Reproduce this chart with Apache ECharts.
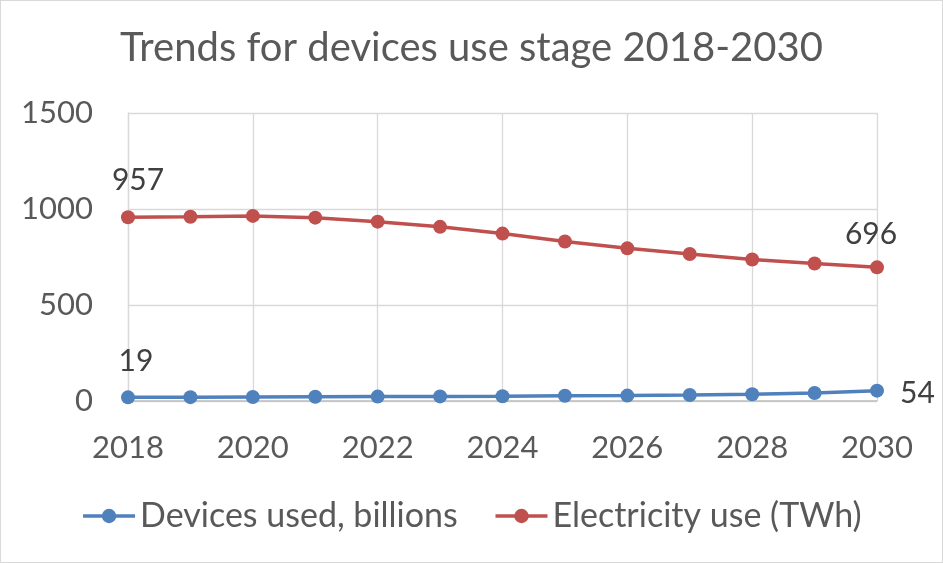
<!DOCTYPE html>
<html>
<head>
<meta charset="utf-8">
<script src="https://cdn.jsdelivr.net/npm/echarts@6/dist/echarts.min.js"></script>
<style>
  html, body { margin: 0; padding: 0; background: #fff; }
  #chart { width: 943px; height: 563px; box-sizing: border-box; border: 1px solid #D9D9D9; }
</style>
</head>
<body>
<div id="chart"></div>
<script>
// Years on the horizontal axis
const years = [2018, 2019, 2020, 2021, 2022, 2023, 2024, 2025, 2026, 2027, 2028, 2029, 2030];
// Devices in use, billions
const devices = [19, 20, 21, 22, 23, 24, 25, 27, 28, 31, 35, 42, 54];
// Electricity use, TWh
const electricity = [957, 960, 964, 955, 934, 907, 872, 831, 795, 766, 737, 716, 696];
// Axis tick settings
const yTicks = { min: 0, max: 1500, interval: 500 };
const xTicks = { min: 2018, max: 2030, interval: 2 };

const textColor = '#595959';
const font = 'Lato, "Open Sans", sans-serif';

function pairs(vals) { return years.map((y, i) => [y, vals[i]]); }

// Label only the first and last point of a series
function endLabels(vals, firstLabel, lastLabel) {
  return pairs(vals).map((p, i) => {
    const item = { value: p };
    if (i === 0) item.label = Object.assign({ show: true }, firstLabel);
    else if (i === vals.length - 1) item.label = Object.assign({ show: true }, lastLabel);
    return item;
  });
}

const plain = v => String(v);
const valueText = p => String(p.value[1]);

const chart = echarts.init(document.getElementById('chart'), null, { renderer: 'canvas' });
chart.setOption({
  animation: false,
  title: {
    text: 'Trends for devices use stage 2018-2030',
    left: 'center', top: 22,
    textStyle: { color: textColor, fontSize: 40, fontWeight: 'normal', fontFamily: font }
  },
  legend: {
    bottom: 24, left: 'center',
    itemWidth: 52, itemHeight: 18, itemGap: 36,
    lineStyle: { width: 3.5 },
    textStyle: { color: textColor, fontSize: 34, fontFamily: font }
  },
  grid: { left: 127, right: 65, top: 112, bottom: 161 },
  xAxis: {
    type: 'value', min: xTicks.min, max: xTicks.max, interval: xTicks.interval,
    axisLine: { show: true, lineStyle: { color: '#BFBFBF', width: 1.5 } },
    axisTick: { show: false },
    splitLine: { show: true, lineStyle: { color: '#D9D9D9', width: 1.3 } },
    axisLabel: { color: textColor, fontSize: 31, fontFamily: font, margin: 31, formatter: plain }
  },
  yAxis: {
    type: 'value', min: yTicks.min, max: yTicks.max, interval: yTicks.interval,
    axisLine: { show: true, lineStyle: { color: '#D9D9D9', width: 1.3 } },
    axisTick: { show: false },
    splitLine: { show: true, lineStyle: { color: '#D9D9D9', width: 1.3 } },
    axisLabel: { color: textColor, fontSize: 31, fontFamily: font, margin: 35, formatter: plain }
  },
  series: [
    {
      name: 'Devices used, billions', type: 'line',
      data: endLabels(devices,
        { position: 'top', distance: 14, offset: [8, 0] },
        { position: 'right', distance: 16, offset: [0, 3] }),
      symbol: 'circle', symbolSize: 14,
      lineStyle: { color: '#4F81BD', width: 3.5 },
      itemStyle: { color: '#4F81BD' },
      label: { color: '#404040', fontSize: 30, fontFamily: font, formatter: valueText }
    },
    {
      name: 'Electricity use (TWh)', type: 'line',
      data: endLabels(electricity,
        { position: 'top', distance: 15, offset: [10, 0] },
        { position: 'top', distance: 11, offset: [-6, 0] }),
      symbol: 'circle', symbolSize: 14,
      lineStyle: { color: '#C0504D', width: 3.5 },
      itemStyle: { color: '#C0504D' },
      label: { color: '#404040', fontSize: 30, fontFamily: font, formatter: valueText }
    }
  ]
});
</script>
</body>
</html>
